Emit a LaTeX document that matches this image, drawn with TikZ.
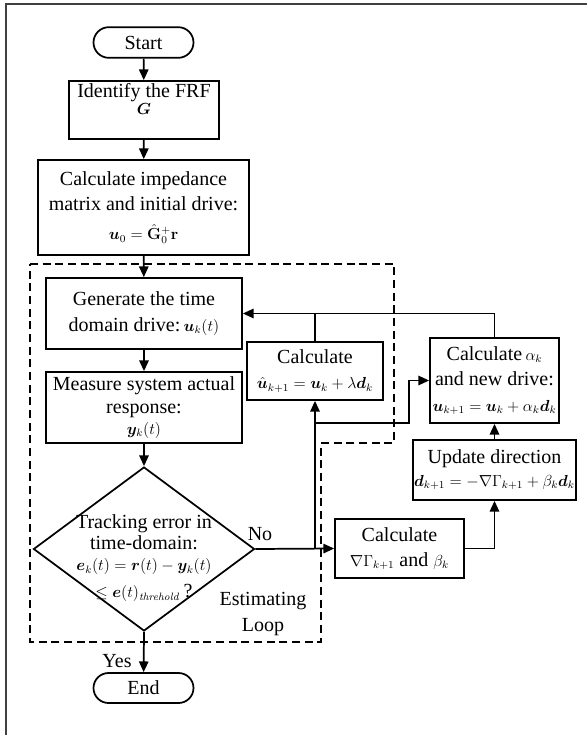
\documentclass[tikz,border=0pt]{standalone}
\usepackage{amsmath}
\usepackage{bm}
\usepackage[no-math]{fontspec}
\setmainfont{Liberation Serif}
\usetikzlibrary{shapes.misc,shapes.geometric,arrows.meta}
\tikzset{
  box/.style={draw, line width=1.3pt, align=center, inner sep=1pt, font=\fontsize{15}{19}\selectfont},
  term/.style={box, rounded rectangle},
  lbl/.style={align=center, inner sep=0.75pt, font=\fontsize{15}{19}\selectfont},
  flow/.style={line width=1.3pt, -{Triangle[length=8pt,width=7pt]}},
  link/.style={line width=1.3pt},
  loopline/.style={line width=1.3pt, dash pattern=on 6pt off 3.5pt},
}
\newcommand{\fm}[1]{{\fontsize{12}{14}\selectfont$#1$}}
\begin{document}
\begin{tikzpicture}[x=0.75pt,y=0.75pt,yscale=-1,xscale=1]
  \useasboundingbox (0,0) rectangle (587,735);
  %Frame
  \draw [line width=1.5pt, color=black!75] (6,735) -- (6,4) -- (587,4) ;
  %Dashed loop
  \draw [loopline] (30,264) -- (394,264) -- (394,443) -- (321,443) -- (321,642) -- (30,642) -- cycle ;

  %Shape: Terminal
  \node [term, minimum width=77pt, minimum height=23pt] (start) at (143.5,42.5) {Start};
  %Shape: Rectangle
  \node [box, minimum width=112.5pt, minimum height=43.5pt] (frf) at (144,110) {Identify the FRF\\[-6pt]\fm{\bm{G}}\\[-2pt]};
  %Shape: Rectangle
  \node [box, minimum width=158.25pt, minimum height=71.25pt] (imped) at (143.5,207.5) {Calculate impedance\\matrix and initial drive:\\[3pt]\fm{\bm{u}_0 = \hat{\mathbf{G}}{}_0^{+}\mathbf{r}}};
  %Shape: Rectangle
  \node [box, minimum width=147pt, minimum height=53.25pt] (gen) at (144,313.5) {Generate the time\\domain drive:\,\fm{\bm{u}_k(t)}};
  %Shape: Rectangle
  \node [box, minimum width=147pt, minimum height=53.25pt] (meas) at (144,407.5) {Measure system actual\\[-2pt]response:\\[-3pt]\fm{\bm{y}_k(t)}};
  %Shape: Diamond
  \node [draw, diamond, line width=1.3pt, minimum width=165.75pt, minimum height=123pt, inner sep=0pt] (dec) at (144,549) {};
  % Text Node
  \node [lbl] (dectext) at (144,558) {Tracking error in\\[-3pt]time-domain:\\[-3pt]\fm{\bm{e}_k(t) = \bm{r}(t) - \bm{y}_k(t)}\\[1pt]\fm{\le \bm{e}(t)_{\mathit{threhold}}}\,?};
  %Shape: Terminal
  \node [term, minimum width=77pt, minimum height=22.5pt] (end) at (143.5,688) {End};

  %Shape: Rectangle
  \node [box, minimum width=102pt, minimum height=43.5pt] (calchat) at (315,371) {Calculate\\\fm{\hat{\bm{u}}_{k+1} = \bm{u}_k + \lambda\bm{d}_k}};
  %Shape: Rectangle
  \node [box, minimum width=96.75pt, minimum height=63.75pt] (calcalpha) at (494.5,380.5) {Calculate\,\fm{\alpha_k}\\and new drive:\\\fm{\bm{u}_{k+1} = \bm{u}_k + \alpha_k\bm{d}_k}};
  %Shape: Rectangle
  \node [box, minimum width=111.75pt, minimum height=45pt] (update) at (494.5,470) {Update direction\\[-2pt]\fm{\bm{d}_{k+1} = -\nabla\Gamma_{k+1} + \beta_k\bm{d}_k}};
  %Shape: Rectangle
  \node [box, minimum width=96.75pt, minimum height=44.25pt] (nabla) at (399.5,548.5) {Calculate\\\fm{\nabla\Gamma_{k+1}}\ and\ \fm{\beta_k}};

  % Text Node
  \node [lbl] (yes) at (117,661) {Yes};
  % Text Node
  \node [lbl] (no) at (260,534) {No};
  % Text Node
  \node [lbl] (looplbl) at (263,614) {Estimating\\Loop};

  %Main flow
  \draw [flow] (start) -- (frf) ;
  \draw [flow] (frf) -- (imped) ;
  \draw [flow] (imped) -- (gen) ;
  \draw [flow] (gen) -- (meas) ;
  \draw [flow] (meas) -- (dec.north) ;
  \draw [flow] (dec.south) -- (end) ;
  \draw [flow] (dec.east) -- (nabla.west) ;
  %Update branch
  \coordinate (j1) at (calchat.south |- dec.east) ;
  \coordinate (j2) at (calchat.south |- 0,423) ;
  \coordinate (bend) at (409,423) ;
  \draw [flow] (j1) -- (calchat.south) ;
  \draw [flow] (j2) -- (bend) |- (calcalpha.west) ;
  \draw [flow] (nabla.east) -| (update.south) ;
  \draw [flow] (update) -- (calcalpha) ;
  \draw [flow] (calcalpha.north) |- (gen.east) ;
  \draw [link] (calchat.north) -- (calchat.north |- gen.east) ;
\end{tikzpicture}
\end{document}
